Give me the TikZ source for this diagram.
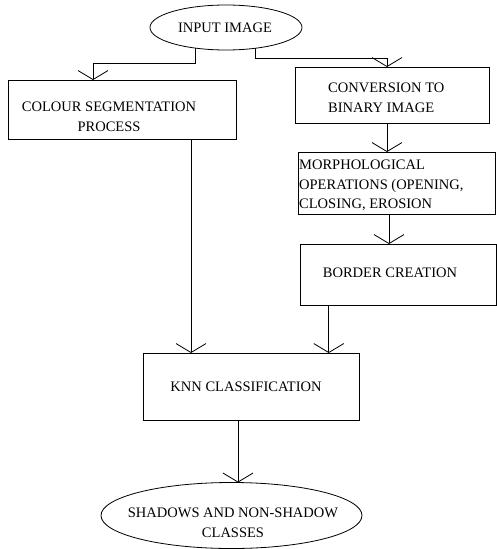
\documentclass[tikz,border=0pt]{standalone}
\usepackage{fontspec}
\setmainfont{Liberation Serif}
\usetikzlibrary{arrows.meta,shapes.geometric}
\begin{document}
\begin{tikzpicture}[x=1pt,y=1pt,
  box/.style={draw,line width=0.8pt,rectangle,inner sep=0pt,outer sep=0pt},
  oval/.style={draw,line width=0.8pt,ellipse,inner sep=0pt,outer sep=0pt},
  lbl/.style={inner sep=0pt,font=\fontsize{14.5}{19.5}\selectfont},
  arr/.style={line width=0.8pt,-{Straight Barb[length=9pt,width=30pt,line width=0.8pt]}}]
\useasboundingbox (0,0) rectangle (497,-549);
% shapes
\node[oval,minimum width=152pt,minimum height=45pt] (inp) at (226,-27.5) {};
\node[box,minimum width=228pt,minimum height=59pt] (cs) at (122,-109.5) {};
\node[box,minimum width=194pt,minimum height=56pt] (cv) at (392,-95) {};
\node[box,minimum width=197pt,minimum height=62pt] (mo) at (396.5,-183) {};
\node[box,minimum width=195.5pt,minimum height=61pt] (bd) at (398.25,-274.5) {};
\node[box,minimum width=216pt,minimum height=67pt] (kn) at (251,-386.5) {};
\node[oval,minimum width=261pt,minimum height=66pt] (shd) at (231.5,-515.5) {};
% texts
\node[lbl,anchor=base] (tinp) at (225,-32) {INPUT IMAGE};
\node[lbl,anchor=north,align=center] (tcs) at (109,-102) {COLOUR SEGMENTATION\\PROCESS};
\node[lbl,anchor=north west,align=left] (tcv) at (328,-83) {CONVERSION TO\\BINARY IMAGE};
\node[lbl,anchor=north west,align=left] (tmo) at (299,-160) {MORPHOLOGICAL\\OPERATIONS (OPENING,\\CLOSING, EROSION};
\node[lbl,anchor=base] (tbd) at (390,-277) {BORDER CREATION};
\node[lbl,anchor=base] (tkn) at (246,-391) {KNN CLASSIFICATION};
\node[lbl,anchor=north,align=center] (tshd) at (233,-508) {SHADOWS AND NON-SHADOW\\CLASSES};
% connector corners
\coordinate (cpL) at (93,-63);
\coordinate (cpR) at (387,-58);
% connectors
\draw[arr] (inp.214.6) |- (cpL) -- (cpL |- cs.north);
\draw[arr] (inp.-35.6) |- (cpR) -- (cpR |- cv.north);
\draw[arr] ([xshift=-5pt]cv.south) -- ([xshift=-5pt]cv.south |- mo.north);
\draw[arr] ([xshift=-7.5pt]mo.south) -- ([xshift=-7.5pt]mo.south |- bd.north);
\draw[arr] ([xshift=69pt]cs.south) -- ([xshift=69pt]cs.south |- kn.north);
\draw[arr] ([xshift=-69.5pt]bd.south) -- ([xshift=-69.5pt]bd.south |- kn.north);
\draw[arr] ([xshift=-13pt]kn.south) -- ([xshift=-13pt]kn.south |- shd.north);
\end{tikzpicture}
\end{document}
